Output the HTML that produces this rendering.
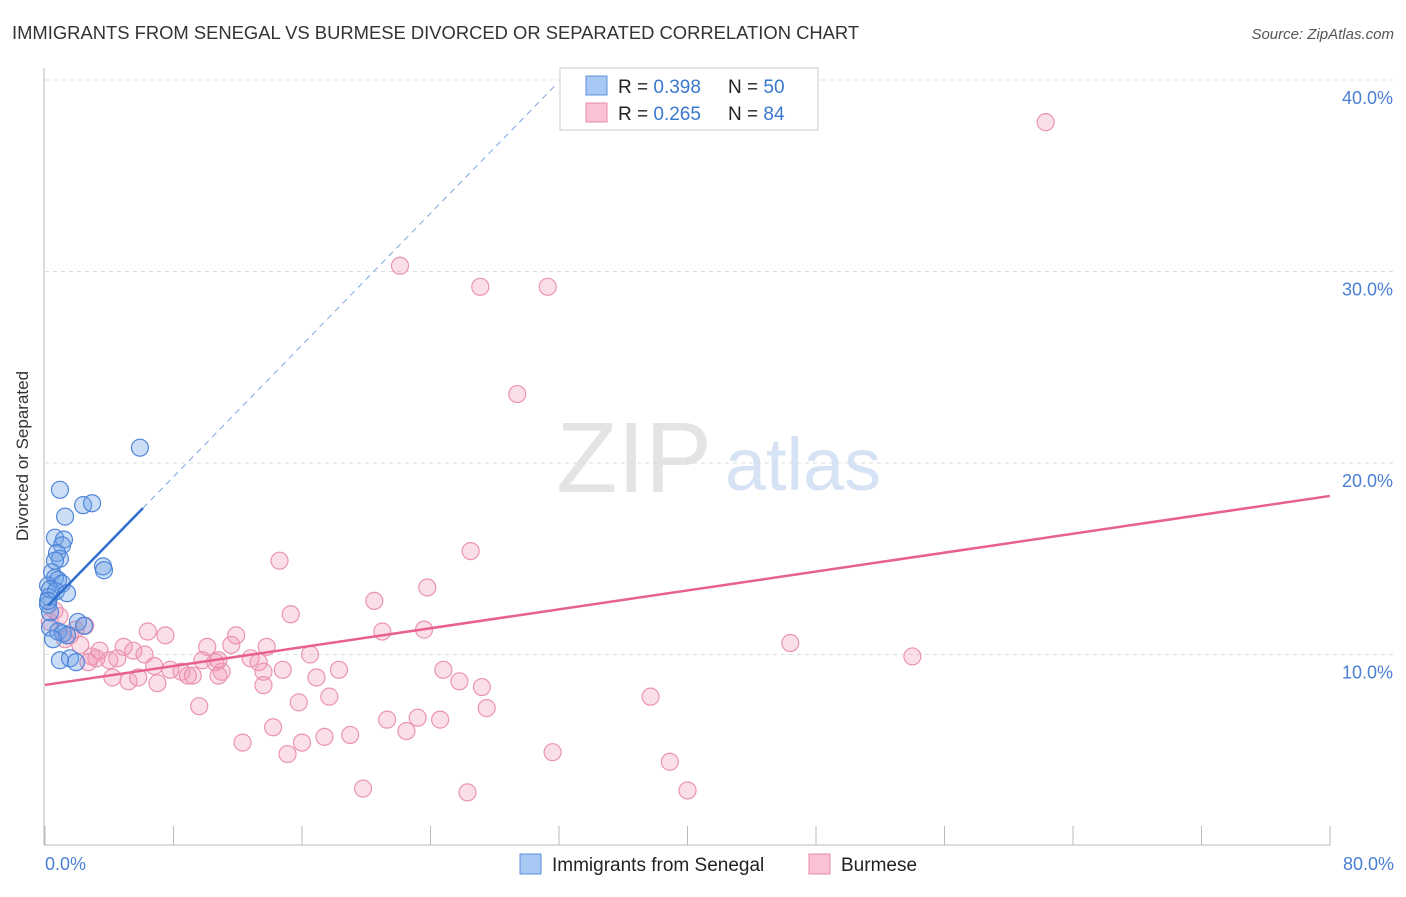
<!DOCTYPE html>
<html><head><meta charset="utf-8"><style>
body{margin:0;background:#fff;font-family:"Liberation Sans",sans-serif;}
svg text{font-family:"Liberation Sans",sans-serif;}
</style></head><body>
<svg width="1406" height="892" id="c">
<text x="12" y="39" font-size="18.4" fill="#333">IMMIGRANTS FROM SENEGAL VS BURMESE DIVORCED OR SEPARATED CORRELATION CHART</text>
<text x="1394" y="39" font-size="15" fill="#555" text-anchor="end" font-style="italic">Source: ZipAtlas.com</text>
<text x="634" y="492" font-size="100" fill="#e4e4e4" font-family="Liberation Serif" text-anchor="middle">ZIP</text>
<text x="803" y="490" font-size="74" fill="#d6e3f5" text-anchor="middle">atlas</text>
<g id="grid"></g>
<line x1="44" y1="68" x2="44" y2="845" stroke="#bbb"/>
<line x1="44" y1="845" x2="1330" y2="845" stroke="#bbb"/>
<text x="28" y="456" font-size="17" fill="#333" text-anchor="middle" transform="rotate(-90 28 456)">Divorced or Separated</text>
<text x="45" y="870" font-size="18" fill="#4a7fd4">0.0%</text>
<text x="1394" y="870" font-size="18" fill="#4a7fd4" text-anchor="end">80.0%</text>
<g id="marks"></g>
<g>
<rect x="560" y="68" width="258" height="62" fill="#fff" stroke="#ccc"/>
<rect x="586" y="76" width="21" height="19" fill="#a8c8f4" stroke="#5d8fdc"/>
<rect x="586" y="103" width="21" height="19" fill="#f9c3d3" stroke="#e98aa8"/>
<text x="618" y="93" font-size="19" fill="#222">R = <tspan fill="#3a78d0">0.398</tspan></text>
<text x="728" y="93" font-size="19" fill="#222">N = <tspan fill="#3a78d0">50</tspan></text>
<text x="618" y="120" font-size="19" fill="#222">R = <tspan fill="#3a78d0">0.265</tspan></text>
<text x="728" y="120" font-size="19" fill="#222">N = <tspan fill="#3a78d0">84</tspan></text>
</g>
<g>
<rect x="520" y="854" width="21" height="20" fill="#a8c8f4" stroke="#5d8fdc"/>
<text x="552" y="871" font-size="19" fill="#222">Immigrants from Senegal</text>
<rect x="809" y="854" width="21" height="20" fill="#f9c3d3" stroke="#e98aa8"/>
<text x="841" y="871" font-size="19" fill="#222">Burmese</text>
</g>
</svg>
<script>
const yTicks=[10,20,30,40];
const yTickLabels=["10.0%","20.0%","30.0%","40.0%"];
const xTicks=[0,8,16,24,32,40,48,56,64,72,80];
const senegalX=[5.91,0.93,2.37,2.93,1.25,0.62,1.18,1.06,0.75,0.93,3.61,3.67,0.44,0.62,0.81,0.19,1.06,0.31,0.68,1.37,0.25,0.19,0.31,2.05,2.43,0.31,0.81,1.12,1.37,0.5,0.93,1.56,1.93,0.19,0.62];
const senegalY=[20.8,18.6,17.8,17.9,17.2,16.1,16.0,15.7,15.3,15.0,14.6,14.4,14.3,14.0,13.9,13.6,13.7,13.4,13.3,13.2,13.0,12.6,12.2,11.7,11.5,11.4,11.2,11.1,11.0,10.8,9.7,9.8,9.6,12.8,14.9];
const burmeseX=[62.3,22.1,27.1,31.3,29.4,26.5,14.6,23.8,15.3,20.5,21.0,23.6,46.4,54.0,11.9,6.4,7.5,4.9,5.5,6.2,10.1,11.6,13.8,16.5,3.4,2.9,4.0,4.5,6.8,7.8,8.5,8.9,9.2,9.8,10.6,11.0,10.8,12.8,13.3,14.8,18.3,24.8,13.6,16.9,25.8,27.2,4.2,5.2,5.8,7.0,10.8,13.6,17.7,15.8,9.6,27.5,37.7,21.3,23.2,24.6,14.2,22.5,17.4,19.0,16.0,12.3,15.1,31.6,38.9,19.8,26.3,40.0,1.9,2.5,0.6,0.3,0.9,1.25,1.56,2.2,2.7,3.2];
const burmeseY=[37.8,30.3,29.2,29.2,23.6,15.4,14.9,13.5,12.1,12.8,11.2,11.3,10.6,9.9,11.0,11.2,11.0,10.4,10.2,10.0,10.4,10.5,10.4,10.0,10.2,9.9,9.7,9.8,9.4,9.2,9.1,8.9,8.9,9.7,9.6,9.1,9.7,9.8,9.6,9.2,9.2,9.2,9.1,8.8,8.6,8.3,8.8,8.6,8.8,8.5,8.9,8.4,7.8,7.5,7.3,7.2,7.8,6.6,6.7,6.6,6.2,6.0,5.7,5.8,5.4,5.4,4.8,4.9,4.4,3.0,2.8,2.9,11.3,11.5,12.3,11.7,12.0,10.8,11.0,10.5,9.6,9.8];
const senegalTrend=[12.4,0.86];
const burmeseTrend=[8.41,18.28];
const X=v=>45+v/80*1285;
const Y=v=>846-v*19.15;
const NS="http://www.w3.org/2000/svg";
function mk(t,a,p){const e=document.createElementNS(NS,t);for(const k in a)e.setAttribute(k,a[k]);p.appendChild(e);return e;}
const g=document.getElementById('grid'),m=document.getElementById('marks');
yTicks.forEach((t,i)=>{
 const l=mk('line',{x1:45,x2:1394,y1:Y(t),y2:Y(t),stroke:'#ddd','stroke-dasharray':'4,4'},g);
 
 
 const tx=mk('text',{x:1393,y:Y(t)+24,'font-size':18,fill:'#4a7fd4','text-anchor':'end'},g);
 tx.textContent=yTickLabels[i];
 
 
});
mk('line',{x1:45,x2:1394,y1:80,y2:80,stroke:'#ddd','stroke-dasharray':'4,4'},g);
xTicks.forEach(t=>{
 const l=mk('line',{x1:X(t),x2:X(t),y1:826,y2:845,stroke:'#bbb'},g);
 
 
});
burmeseX.forEach((x,i)=>{
 const c=mk('circle',{cx:X(x),cy:Y(burmeseY[i]),r:8.5,fill:'rgba(243,150,180,0.3)',stroke:'#eb94b0','stroke-width':1.2},m);
 
 
});
senegalX.forEach((x,i)=>{
 const c=mk('circle',{cx:X(x),cy:Y(senegalY[i]),r:8.5,fill:'rgba(110,160,230,0.35)',stroke:'#4f86da','stroke-width':1.2},m);
 
 
});
const sx1=6.1,sx2=31.8;
const d=mk('line',{x1:X(sx1),y1:Y(senegalTrend[0]+senegalTrend[1]*sx1),x2:X(sx2),y2:Y(senegalTrend[0]+senegalTrend[1]*sx2),stroke:'#7aa3e0','stroke-dasharray':'6,5','stroke-width':1},m);


const s=mk('line',{x1:X(0.2),y1:Y(senegalTrend[0]+senegalTrend[1]*0.2),x2:X(sx1),y2:Y(senegalTrend[0]+senegalTrend[1]*sx1),stroke:'#2f6fd0','stroke-width':2.5},m);


const b=mk('line',{x1:X(0),y1:Y(burmeseTrend[0]),x2:X(80),y2:Y(burmeseTrend[1]),stroke:'#e8608c','stroke-width':2.5},m);


</script>
</body></html>
